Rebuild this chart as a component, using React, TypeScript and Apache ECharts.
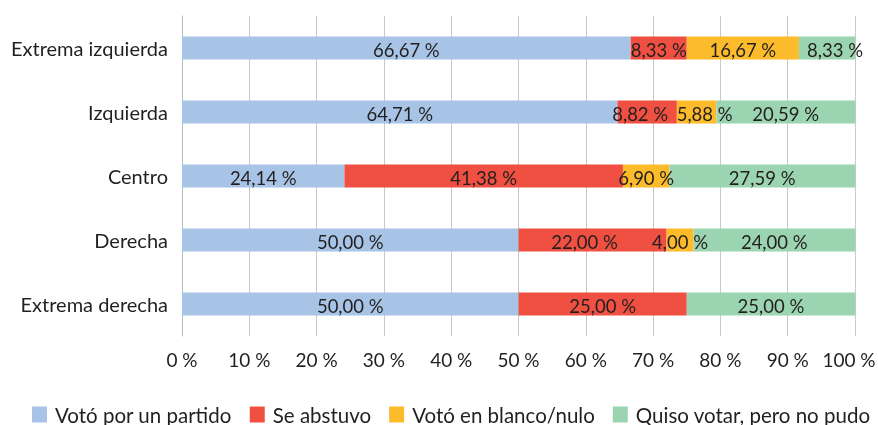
import React, { useEffect, useRef } from "react";
import * as echarts from "echarts";

const categories = ["Extrema izquierda", "Izquierda", "Centro", "Derecha", "Extrema derecha"];
const seriesNames = ["Votó por un partido", "Se abstuvo", "Votó en blanco/nulo", "Quiso votar, pero no pudo"];
const votoPartido = [66.67, 64.71, 24.14, 50.0, 50.0];
const seAbstuvo = [8.33, 8.82, 41.38, 22.0, 25.0];
const votoBlanco = [16.67, 5.88, 6.9, 4.0, 0];
const noPudo = [8.33, 20.59, 27.59, 24.0, 25.0];
const colors = ["#a7c4e6", "#ef5041", "#fbbb2b", "#9bd4b0"];
// horizontal nudges of some in-bar labels, as in the reference (series -> category -> px)
const labelNudge: Record<string, number>[] = [{}, { "1": -7, "3": -8 }, { "1": 8 }, { "0": 8 }];

const FONT = "Lato";
const TEXT = "#231f20";

export default function App() {
  const ref = useRef<HTMLDivElement>(null);
  useEffect(() => {
    const chart = echarts.init(ref.current!, null, { renderer: "svg" });
    const data = [votoPartido, seAbstuvo, votoBlanco, noPudo];
    const fmt = (v: number) => v.toFixed(2).replace(".", ",") + " %";
    chart.setOption({
      animation: false,
      textStyle: { fontFamily: FONT },
      grid: {
        left: 182,
        right: 23,
        top: 16,
        bottom: 89,
        containLabel: false,
        outerBoundsMode: "none",
      },
      legend: {
        top: 404,
        left: 32,
        padding: 0,
        itemWidth: 15,
        itemHeight: 16,
        itemGap: 18,
        icon: "rect",
        textStyle: { fontFamily: FONT, fontSize: 20.5, color: TEXT, padding: [0, 0, 0, 3] },
        data: seriesNames,
      },
      xAxis: {
        type: "value",
        min: 0,
        max: 100,
        interval: 10,
        axisLine: { show: false },
        axisTick: { show: false },
        splitLine: { show: true, lineStyle: { color: "#c8c8c8", width: 1 } },
        axisLabel: {
          formatter: (v: number) => (v === 100 ? "{last|" + v + " %}" : v + " %"),
          fontFamily: FONT,
          fontSize: 19,
          color: TEXT,
          margin: 14,
          rich: {
            last: { fontFamily: FONT, fontSize: 19, color: TEXT, padding: [0, 12, 0, 0] },
          },
        },
      },
      yAxis: {
        type: "category",
        inverse: true,
        data: categories,
        axisLine: { show: true, lineStyle: { color: "#b8b8b8" } },
        axisTick: { show: false },
        axisLabel: { fontFamily: FONT, fontSize: 20, color: TEXT, margin: 14 },
      },
      series: seriesNames.map((name, i) => ({
        name,
        type: "bar",
        stack: "total",
        barWidth: 23,
        itemStyle: { color: colors[i] },
        data: data[i].map((v, j) => {
          if (v === 0) return null;
          const dx = labelNudge[i][String(j)] || 0;
          return { value: v, label: { offset: [dx, 2] } };
        }),
        label: {
          show: true,
          position: "inside",
          fontFamily: FONT,
          fontSize: 18.5,
          color: TEXT,
          offset: [0, 2],
          formatter: (p: any) => (p.value ? fmt(p.value) : ""),
        },
        emphasis: { disabled: true },
      })),
    });
    return () => chart.dispose();
  }, []);
  return (
    <div
      ref={ref}
      style={{ position: "fixed", left: 0, top: 0, width: 878, height: 425 }}
    />
  );
}
